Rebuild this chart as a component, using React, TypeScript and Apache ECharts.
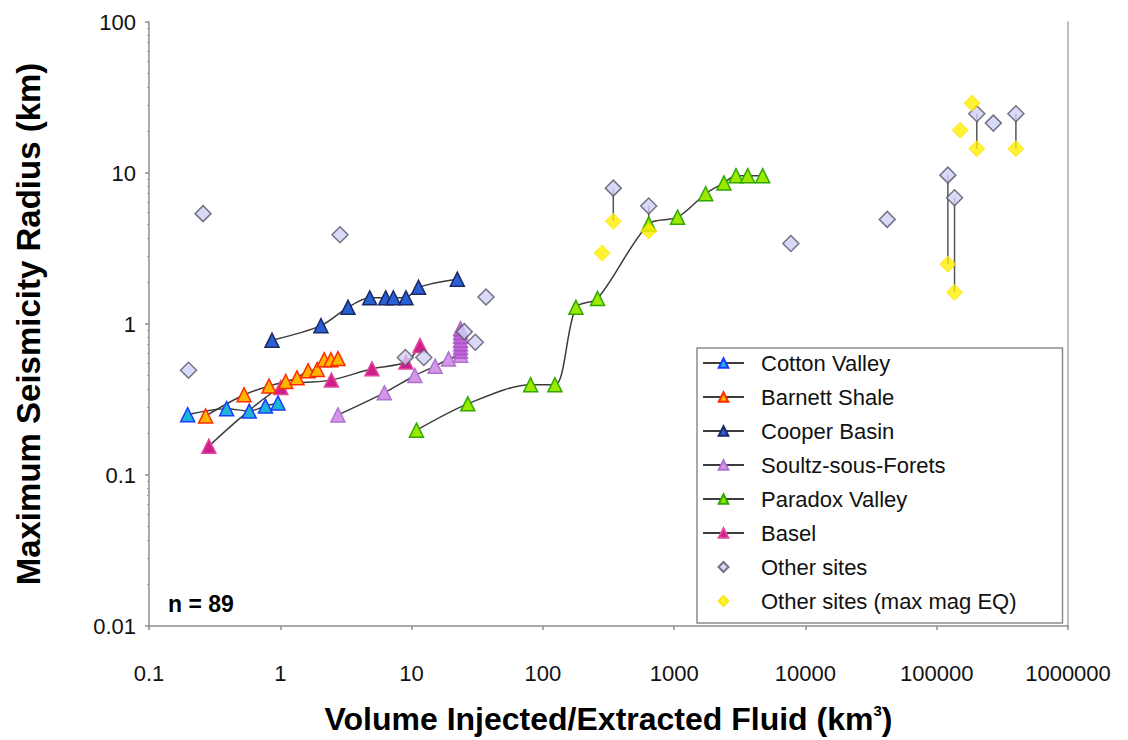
import React, { useEffect, useRef } from "react";
import * as echarts from "echarts";

// ---------- data ----------
const xTickLabels = ["0.1", "1", "10", "100", "1000", "10000", "100000", "1000000"];
const yTickLabels = ["0.01", "0.1", "1", "10", "100"];

const cottonX = [0.197, 0.39, 0.58, 0.77, 0.96];
const cottonY = [0.251, 0.275, 0.265, 0.286, 0.3];

const barnettX = [0.27, 0.53, 0.82, 1.1, 1.34, 1.63, 1.91, 2.16, 2.43, 2.75];
const barnettY = [0.246, 0.34, 0.388, 0.416, 0.44, 0.49, 0.5, 0.58, 0.58, 0.59];

const cooperX = [0.865, 2.04, 3.28, 4.8, 6.35, 7.26, 9.06, 11.3, 22.3];
const cooperY = [0.78, 0.975, 1.29, 1.49, 1.49, 1.49, 1.49, 1.75, 1.98];

const soultzX = [2.75, 6.2, 10.6, 15.1, 19.1, 23.6];
const soultzY = [0.25, 0.35, 0.456, 0.526, 0.587, 0.62];
const soultzStackX = [23.6, 23.6, 23.6, 23.6, 23.6, 23.6, 23.6];
const soultzStackY = [0.66, 0.7, 0.74, 0.78, 0.83, 0.88, 0.93];

const paradoxX = [10.9, 26.8, 80.7, 123.6, 178.6, 261, 640, 1062, 1738, 2393, 2958, 3630, 4720];
const paradoxY = [0.198, 0.296, 0.396, 0.396, 1.29, 1.475, 4.6, 5.1, 7.29, 8.6, 9.6, 9.6, 9.6];

const baselX = [0.286, 1.01, 2.45, 4.99, 9.06, 11.6];
const baselY = [0.155, 0.38, 0.425, 0.505, 0.56, 0.72];

const otherX = [0.2, 0.258, 2.85, 8.96, 12.4, 25.2, 30.6, 36.9, 344, 640, 7745, 42000, 121600, 136700, 202000, 270000, 401000];
const otherY = [0.494, 5.38, 3.9, 0.6, 0.6, 0.89, 0.757, 1.51, 7.94, 6.04, 3.41, 4.93, 9.68, 6.86, 24.7, 21.4, 24.7];

const maxMagX = [283, 344, 640, 121600, 136700, 151000, 186000, 202000, 401000];
const maxMagY = [2.95, 4.79, 4.13, 2.49, 1.62, 19.2, 29, 14.5, 14.5];

// vertical connectors between "Other sites" and their max-mag EQ values
const pairX = [344, 640, 121600, 136700, 202000, 401000];
const pairTop = [7.94, 6.04, 9.68, 6.86, 24.7, 24.7];
const pairBottom = [4.79, 4.13, 2.49, 1.62, 14.5, 14.5];

const sampleCount = "n = 89";

const zip = (xs: number[], ys: number[]) => xs.map((x, i) => [x, ys[i]]);

const FONT = "'Liberation Sans', Arial, sans-serif";

// small diamond centred in a 41x12 legend icon box (zero-length corner segments fix the box)
const LEGEND_DIAMOND = "path://M0,0 L0,0 M41,12 L41,12 M20.5,1 L25.5,6 L20.5,11 L15.5,6 Z";

function lineSeries(name: string, xs: number[], ys: number[], fill: string, border: string) {
  return {
    type: "line",
    name,
    data: zip(xs, ys),
    smooth: 0.3,
    symbol: "triangle",
    symbolSize: 14,
    lineStyle: { color: "#3c3c3c", width: 1.5 },
    itemStyle: { color: fill, borderColor: border, borderWidth: 1.5 },
    z: 3,
  };
}

export default function App() {
  const ref = useRef<HTMLDivElement>(null);

  useEffect(() => {
    if (!ref.current) return;
    const chart = echarts.init(ref.current, null, { renderer: "svg" });

    const connectorSeries = pairX.map((x, i) => ({
      type: "line",
      name: "connector" + i,
      data: [
        [x, pairTop[i]],
        [x, pairBottom[i]],
      ],
      symbol: "none",
      lineStyle: { color: "#555555", width: 1.5 },
      z: 2,
      silent: true,
    }));

    const option: any = {
      animation: false,
      backgroundColor: "#ffffff",
      textStyle: { fontFamily: FONT },
      grid: { left: 149, right: 60, top: 22, bottom: 112 },
      xAxis: {
        type: "log",
        logBase: 10,
        min: 0.1,
        max: 1000000,
        name: "Volume Injected/Extracted Fluid (km{sup|3})",
        nameLocation: "middle",
        nameGap: 77,
        nameTextStyle: {
          fontSize: 32,
          fontWeight: "bold",
          color: "#000",
          fontFamily: FONT,
          rich: {
            sup: { fontSize: 15, fontWeight: "bold", color: "#000", verticalAlign: "top", fontFamily: FONT },
          },
        },
        axisLine: { show: true, lineStyle: { color: "#8c8c8c", width: 1.5 } },
        axisTick: { show: true, length: 4, lineStyle: { color: "#8c8c8c", width: 1.5 } },
        splitLine: { show: false },
        axisLabel: {
          fontSize: 22,
          color: "#111",
          margin: 36,
          fontFamily: FONT,
          formatter: (v: number) => xTickLabels[Math.round(Math.log10(v)) + 1] ?? "",
        },
      },
      yAxis: [
        {
          type: "log",
          logBase: 10,
          min: 0.01,
          max: 100,
          name: "Maximum Seismicity Radius (km)",
          nameLocation: "middle",
          nameGap: 104,
          nameTextStyle: { fontSize: 33, fontWeight: "bold", color: "#000", fontFamily: FONT },
          axisLine: { show: true, lineStyle: { color: "#8c8c8c", width: 1.5 } },
          axisTick: { show: true, length: 4, lineStyle: { color: "#8c8c8c", width: 1.5 } },
          minorTick: { show: true, splitNumber: 10, length: 2, lineStyle: { color: "#a0a0a0", width: 1 } },
          splitLine: { show: false },
          axisLabel: {
            fontSize: 22,
            color: "#111",
            margin: 13,
            fontFamily: FONT,
            formatter: (v: number) => yTickLabels[Math.round(Math.log10(v)) + 2] ?? "",
          },
        },
        {
          type: "log",
          logBase: 10,
          min: 0.01,
          max: 100,
          position: "right",
          axisLine: { show: true, lineStyle: { color: "#a8a8a8", width: 1.5 } },
          axisTick: { show: false },
          axisLabel: { show: false },
          splitLine: { show: false },
        },
      ],
      legend: {
        orient: "vertical",
        left: 697,
        top: 348,
        padding: [3, 46, 10, 5],
        itemGap: 10,
        itemWidth: 41,
        itemHeight: 12,
        backgroundColor: "#ffffff",
        borderColor: "#8c8c8c",
        borderWidth: 1.5,
        borderRadius: 0,
        textStyle: { fontSize: 22, color: "#111", fontFamily: FONT, lineHeight: 24, padding: [0, 0, 0, 12] },
        data: [
          "Cotton Valley",
          "Barnett Shale",
          "Cooper Basin",
          "Soultz-sous-Forets",
          "Paradox Valley",
          "Basel",
          { name: "Other sites", icon: LEGEND_DIAMOND },
          { name: "Other sites (max mag EQ)", icon: LEGEND_DIAMOND },
        ],
      },
      graphic: [
        {
          type: "text",
          left: 168,
          top: 592,
          style: { text: sampleCount, fontSize: 23, fontWeight: "bold", fill: "#000", fontFamily: FONT },
        },
      ],
      series: [
        ...connectorSeries,
        lineSeries("Cotton Valley", cottonX, cottonY, "#1fb3d6", "#1a3cff"),
        lineSeries("Basel", baselX, baselY, "#cc1f8a", "#e4459f"),
        lineSeries("Barnett Shale", barnettX, barnettY, "#ffb400", "#ff2a00"),
        lineSeries("Cooper Basin", cooperX, cooperY, "#2b5fd6", "#1a2a66"),
        lineSeries("Soultz-sous-Forets", soultzX, soultzY, "#d596e6", "#b072d2"),
        {
          type: "scatter",
          name: "Soultz-sous-Forets",
          data: zip(soultzStackX, soultzStackY),
          symbol: "triangle",
          symbolSize: 14,
          itemStyle: { color: "#c066d6", borderColor: "#a84ec4", borderWidth: 1.5 },
          z: 3,
        },
        lineSeries("Paradox Valley", paradoxX, paradoxY, "#9be800", "#2fa800"),
        {
          type: "scatter",
          name: "Other sites",
          data: zip(otherX, otherY),
          symbol: "diamond",
          symbolSize: 16,
          itemStyle: { color: "#cfcff6", borderColor: "#555566", borderWidth: 1.5 },
          z: 4,
        },
        {
          type: "scatter",
          name: "Other sites (max mag EQ)",
          data: zip(maxMagX, maxMagY),
          symbol: "diamond",
          symbolSize: 16,
          itemStyle: { color: "#ffee00", borderColor: "#ffe000", borderWidth: 1 },
          z: 5,
        },
      ],
    };

    chart.setOption(option);
    return () => chart.dispose();
  }, []);

  return (
    <div
      ref={ref}
      style={{ position: "fixed", left: 0, top: 0, width: 1128, height: 740, background: "#fff" }}
    />
  );
}
